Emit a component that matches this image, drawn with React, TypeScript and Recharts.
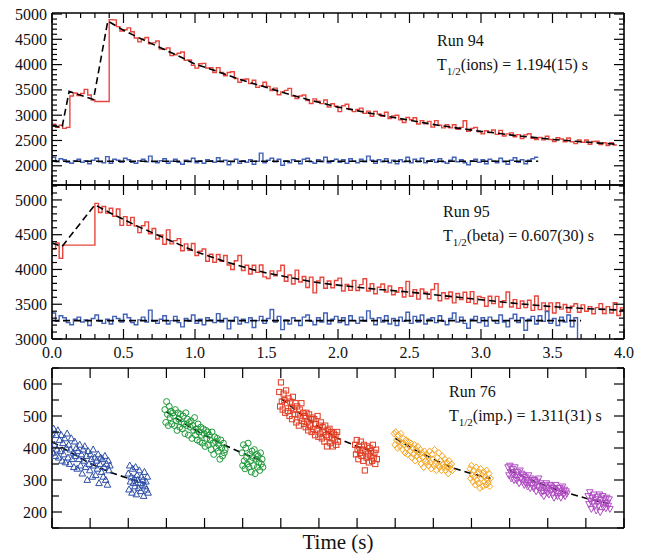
import { ComposedChart, Line, Scatter, XAxis, YAxis } from "recharts";

const FONT = "'Liberation Serif', 'DejaVu Serif', serif";
const BIN = 0.025; // histogram bin width (s)

// ---- Run 94 (ions) ----
const RED_94 = [
  2820, 2760, 2800, 2740, 2760, 3380, 3440, 3390, 3430, 3510,
  3400, 3300, 3270, 3270, 3270, 3270,
  4890, 4885, 4750, 4665, 4690, 4725, 4650, 4525, 4450, 4508, 4535, 4413,
  4430, 4468, 4305, 4303, 4330, 4178, 4195, 4223, 4250, 4085, 4090, 3985,
  3930, 4018, 4025, 3933, 3940, 3845, 3940, 3845, 3780, 3845, 3860, 3725,
  3650, 3708, 3715, 3623, 3690, 3550, 3580, 3650, 3570, 3488, 3535, 3403,
  3460, 3490, 3530, 3380, 3330, 3380, 3400, 3290, 3230, 3323, 3275, 3228,
  3300, 3163, 3225, 3178, 3070, 3188, 3215, 3113, 3070, 3115, 3140, 3035,
  3080, 2978, 3075, 3023, 2980, 3058, 2935, 2983, 3000, 2908, 2855, 2953,
  2910, 2948, 2825, 2893, 2830, 2878, 2765, 2893, 2800, 2750, 2810, 2750,
  2810, 2720, 2760, 2890, 2680, 2740, 2760, 2670, 2630, 2693, 2655, 2708,
  2620, 2700, 2590, 2630, 2650, 2573, 2615, 2538, 2610, 2633, 2545, 2518,
  2560, 2513, 2585, 2518, 2480, 2555, 2530, 2475, 2550, 2474, 2438, 2511,
  2465, 2510, 2425, 2480, 2485, 2420, 2455, 2400, 2455, 2410,
];
const BLUE_94 = [
  2170, 2080, 2140, 2120, 2070, 2050, 2100, 2130, 2070, 2100,
  2040, 2110, 2150, 2080, 2060, 2180, 2050, 2130, 2110, 2070,
  2150, 2120, 2070, 2050, 2100, 2130, 2080, 2190, 2080, 2060,
  2100, 2140, 2050, 2090, 2130, 2070, 2030, 2110, 2080, 2150,
  2060, 2100, 2050, 2120, 2100, 2070, 2160, 2080, 2110, 2020,
  2080, 2130, 2050, 2100, 2070, 2120, 2030, 2090, 2250, 2060,
  2110, 2150, 2080, 2130, 2010, 2100, 2060, 2120, 2090, 2040,
  2130, 2150, 2080, 2050, 2120, 2080, 2170, 2060, 2100, 2130,
  2070, 2120, 2050, 2140, 2090, 2060, 2130, 2080, 2190, 2110,
  2050, 2120, 2080, 2140, 2060, 2110, 2040, 2120, 2080, 2170,
  2060, 2130, 2080, 2150, 2060, 2100, 2120, 2070, 2140, 2080,
  2050, 2110, 2170, 2080, 2120, 2060, 2020, 2100, 2130, 2070,
  2120, 2040, 2130, 2090, 2060, 2150, 2080, 2030, 2110, 2160,
  2070, 2120, 2040, 2110, 2140, 2170,
];
const FIT94_T = [0, 0.07, 0.12, 0.29, 0.39, 0.5, 0.6, 0.7, 0.8, 0.9, 1.0, 1.1, 1.2, 1.3, 1.4, 1.5,
  1.6, 1.7, 1.8, 1.9, 2.0, 2.1, 2.2, 2.3, 2.4, 2.5, 2.6, 2.7, 2.8, 2.9, 3.0, 3.1, 3.2, 3.3, 3.4,
  3.5, 3.6, 3.7, 3.8, 3.9, 3.95];
const FIT94_V = [2790, 2760, 3470, 3310, 4860, 4680, 4540, 4410, 4280, 4150, 4010, 3920, 3820, 3720,
  3630, 3550, 3460, 3380, 3300, 3230, 3160, 3110, 3050, 3000, 2950, 2900, 2850, 2800, 2760, 2720,
  2680, 2650, 2610, 2580, 2550, 2520, 2500, 2475, 2455, 2435, 2425];
const BG94_T = [0, 3.4];
const BG94_V = [2090, 2090];

// ---- Run 95 (beta) ----
const RED_95 = [
  4290, 4380, 4160, 4350, 4350, 4350, 4350, 4350, 4350, 4350, 4350, 4350,
  4950, 4820, 4905, 4810, 4880, 4765, 4870, 4635, 4760, 4635, 4750, 4625,
  4530, 4628, 4685, 4513, 4590, 4438, 4495, 4363, 4570, 4368, 4415, 4443,
  4270, 4368, 4275, 4373, 4200, 4263, 4295, 4118, 4220, 4103, 4215, 4118,
  4200, 4065, 4000, 4125, 4200, 3985, 4060, 3935, 4060, 3958, 4065, 3893,
  3870, 3980, 3910, 3980, 4060, 3830, 3920, 3790, 3990, 3820, 3900, 3740,
  3890, 3663, 3835, 3888, 3730, 3834, 3738, 3841, 3875, 3690, 3784, 3699,
  3843, 3698, 3782, 3867, 3691, 3796, 3650, 3745, 3791, 3676, 3762, 3637,
  3673, 3738, 3604, 3829, 3615, 3710, 3574, 3719, 3673, 3578, 3712, 3797,
  3551, 3666, 3580, 3675, 3519, 3654, 3568, 3673, 3527, 3682, 3506, 3611,
  3595, 3470, 3614, 3509, 3613, 3458, 3552, 3677, 3461, 3566, 3441, 3546,
  3451, 3557, 3412, 3618, 3423, 3519, 3404, 3520, 3375, 3522, 3429, 3496,
  3383, 3470, 3507, 3384, 3491, 3399, 3466, 3364, 3451, 3509, 3367, 3465,
  3373, 3521, 3339, 3447,
];
const BLUE_95 = [
  3375, 3255, 3335, 3305, 3235, 3205, 3285, 3315, 3245, 3275,
  3195, 3295, 3345, 3255, 3225, 3285, 3215, 3325, 3295, 3245,
  3355, 3305, 3235, 3205, 3275, 3315, 3245, 3415, 3255, 3225,
  3285, 3335, 3215, 3265, 3325, 3235, 3175, 3295, 3255, 3345,
  3225, 3285, 3205, 3305, 3275, 3235, 3365, 3245, 3295, 3145,
  3255, 3315, 3215, 3285, 3235, 3305, 3165, 3265, 3325, 3225,
  3295, 3425, 3245, 3325, 3135, 3275, 3215, 3305, 3265, 3195,
  3315, 3345, 3255, 3205, 3305, 3245, 3375, 3215, 3285, 3325,
  3235, 3305, 3205, 3335, 3265, 3225, 3315, 3255, 3405, 3295,
  3205, 3305, 3245, 3335, 3215, 3295, 3195, 3315, 3255, 3385,
  3225, 3325, 3245, 3345, 3215, 3285, 3305, 3235, 3335, 3255,
  3205, 3295, 3375, 3245, 3315, 3225, 3155, 3285, 3325, 3235,
  3305, 3185, 3315, 3265, 3225, 3345, 3245, 3175, 3295, 3355,
  3235, 3305, 3125, 3285, 3325, 3215, 3335, 3255, 3395, 3225,
  3295, 3195, 3315, 3245, 3345, 3175, 3305, 2965,
];
const FIT95_T = [0, 0.07, 0.3, 0.4, 0.5, 0.6, 0.7, 0.8, 0.9, 1.0, 1.1, 1.2, 1.3, 1.4, 1.5, 1.6, 1.7,
  1.8, 1.9, 2.0, 2.25, 2.5, 2.75, 3.0, 3.25, 3.5, 3.75, 4.0];
const FIT95_V = [4380, 4330, 4930, 4820, 4720, 4620, 4530, 4440, 4350, 4260, 4190, 4120, 4060, 4000,
  3950, 3910, 3870, 3830, 3800, 3775, 3720, 3675, 3620, 3565, 3510, 3465, 3435, 3415];
const BG95_T = [0, 3.7];
const BG95_V = [3265, 3265];

// ---- Run 76 (implantation), counts per group ----
const BLUE_A = [
  445, 385, 460, 410, 375, 440, 395, 455, 370, 425,
  390, 440, 360, 415, 380, 430, 355, 400, 445, 370,
  410, 350, 395, 430, 365, 385, 340, 420, 375, 400,
  335, 390, 365, 410, 345, 380, 320, 395, 360, 405,
  340, 375, 300, 390, 350, 330, 380, 365, 310, 395,
  345, 370, 315, 360, 335, 380, 290, 350, 370, 325,
  365, 310, 340, 375, 300, 350, 285, 360, 330, 345,
];
const BLUE_B = [320, 270, 345, 295, 310, 260, 335, 290, 305, 280, 340, 255, 315, 300,
  275, 330, 290, 265, 310, 285, 300, 250, 325, 280, 295, 270, 310, 260];
const GREEN_A = [
  520, 480, 545, 505, 470, 530, 495, 515, 475, 510,
  500, 470, 520, 485, 455, 510, 490, 465, 505, 480,
  460, 500, 475, 445, 510, 470, 490, 440, 480, 465,
  485, 430, 470, 455, 495, 440, 460, 425, 475, 450,
  420, 465, 440, 415, 460, 445, 405, 455, 430, 450,
  410, 440, 425, 395, 450, 415, 380, 435, 420, 400,
  430, 390, 410, 365, 425, 400, 375, 415, 385, 395,
];
const GREEN_B = [385, 345, 410, 360, 335, 400, 370, 350, 415, 340, 380, 360, 325, 390,
  370, 345, 395, 320, 365, 380, 340, 375, 355, 330, 385, 350, 365, 340];
const RED_A = [
  575, 530, 605, 545, 520, 570, 550, 510, 580, 540,
  515, 555, 500, 545, 525, 490, 560, 520, 505, 540,
  480, 530, 505, 470, 520, 495, 540, 485, 510, 475,
  500, 465, 510, 480, 455, 505, 470, 490, 450, 495,
  460, 490, 440, 475, 455, 500, 435, 470, 445, 480,
  430, 465, 450, 420, 470, 440, 405, 455, 435, 460,
  415, 450, 430, 405, 445, 425, 440, 410, 450, 420,
];
const RED_B = [410, 380, 425, 395, 365, 405, 385, 420, 375, 395, 360, 410, 330, 390,
  370, 405, 380, 355, 400, 375, 390, 360, 410, 370, 385, 350, 395, 365];
const ORANGE_A = [
  445, 410, 450, 425, 400, 440, 420, 405, 445, 415,
  395, 430, 410, 385, 425, 400, 380, 420, 405, 390,
  415, 370, 400, 380, 410, 360, 395, 375, 405, 385,
  365, 395, 350, 385, 370, 340, 390, 360, 380, 355,
  375, 345, 390, 355, 335, 380, 365, 345, 395, 350,
  330, 370, 345, 385, 340, 360, 330, 375, 350, 340,
  365, 330, 355, 340, 320, 360, 345, 335, 350, 330,
];
const ORANGE_B = [335, 305, 345, 315, 295, 330, 310, 285, 340, 300, 320, 290, 325, 275,
  335, 305, 315, 280, 325, 295, 310, 285, 330, 300, 290, 320, 280, 305];
const PURPLE_A = [
  340, 315, 345, 325, 305, 335, 320, 300, 340, 315,
  300, 325, 310, 290, 330, 305, 320, 295, 315, 285,
  310, 290, 300, 280, 315, 295, 275, 305, 285, 300,
  275, 300, 285, 265, 295, 280, 305, 270, 290, 260,
  285, 265, 250, 280, 270, 290, 260, 275, 255, 285,
  265, 280, 255, 275, 245, 270, 285, 260, 250, 275,
  260, 275, 245, 265, 280, 255, 270, 250, 265, 258,
];
const PURPLE_B = [250, 225, 262, 235, 210, 245, 230, 255, 218, 240, 205, 248, 232, 220,
  255, 200, 238, 226, 250, 215, 242, 228, 212, 245, 230, 220, 240, 210];
// group spans on the cycle axis
const SPAN_A = [[0.0, 1.52], [2.96, 4.54], [5.96, 7.5], [8.97, 10.5], [11.96, 13.5]];
const SPAN_B = [[2.0, 2.52], [4.98, 5.53], [7.95, 8.52], [10.96, 11.5], [14.06, 14.63]];
const FIT76_X = [
  [0, 0.5, 1, 1.5, 2, 2.45],
  [3, 3.5, 4, 4.5, 5, 5.5],
  [6, 6.5, 7, 7.5, 8, 8.5],
  [9, 9.5, 10, 10.5, 11, 11.5],
  [12, 12.5, 13, 13.5, 14, 14.6],
];
const FIT76_Y = [
  [420, 385, 352, 325, 305, 290],
  [513, 474, 440, 410, 384, 360],
  [555, 508, 466, 430, 405, 385],
  [430, 395, 365, 338, 320, 305],
  [330, 303, 280, 260, 243, 226],
];

const RED = "#e8463c";
const BLUE = "#4262b8";
const PT_COLORS = ["#2f4fa8", "#1f9a3a", "#e23c22", "#f5a623", "#b04cc2"];

const hist = (vals: number[]) => [
  ...vals.map((v, i) => ({ t: +(i * BIN).toFixed(3), v })),
  { t: +(vals.length * BIN).toFixed(3), v: vals[vals.length - 1] },
];
const pairs = (ts: number[], vs: number[]) => ts.map((t, i) => ({ t, v: vs[i] }));
const xy = (xs: number[], ys: number[]) => xs.map((x, i) => ({ x, y: ys[i] }));
const spread = (span: number[], ys: number[]) =>
  ys.map((y, i) => ({ x: span[0] + (i * (span[1] - span[0])) / (ys.length - 1), y }));
const range = (a: number, b: number, s: number) =>
  Array.from({ length: Math.round((b - a) / s) + 1 }, (_, i) => +(a + i * s).toFixed(4));
const onStep = (v: number, s: number) => Math.abs(v / s - Math.round(v / s)) < 1e-6;

type Side = "left" | "right" | "top" | "bottom";

const tickFn =
  (side: Side, major: number, labelled: boolean, digits: number, majorLen: number, minorLen: number) =>
  (props: any) => {
    const { x, y, payload } = props;
    const v = payload.value;
    const isMaj = onStep(v, major);
    const len = isMaj ? majorLen : minorLen;
    const x2 = side === "left" ? x + len : side === "right" ? x - len : x;
    const y2 = side === "bottom" ? y - len : side === "top" ? y + len : y;
    let label = null;
    if (labelled && isMaj) {
      label =
        side === "left" ? (
          <text x={x - 5} y={y} dy="0.35em" textAnchor="end" fontFamily={FONT} fontSize={16} fill="#111">
            {v.toFixed(digits)}
          </text>
        ) : (
          <text x={x} y={y + 13} dy="0.35em" textAnchor="middle" fontFamily={FONT} fontSize={16} fill="#111">
            {v.toFixed(digits)}
          </text>
        );
    }
    return (
      <g>
        <line x1={x} y1={y} x2={x2} y2={y2} stroke="#000" strokeWidth={1.2} />
        {label}
      </g>
    );
  };

const AXIS_LINE = { stroke: "#000", strokeWidth: 1.6 };

function frame(o: {
  xKey: string; yKey: string; topH: number; bottomH: number;
  xDomain: number[]; xTicks: number[]; xMajor: number; xLabels: boolean; xDigits: number; xMinorLen: number;
  yDomain: number[]; yTicks: number[]; yMajor: number; yMinorLen: number;
}) {
  const common = { tickSize: 0, tickMargin: 0, interval: 0 as const, allowDataOverflow: true, axisLine: AXIS_LINE, tickLine: false };
  return [
    <XAxis key="xb" xAxisId="b" dataKey={o.xKey} type="number" domain={o.xDomain} ticks={o.xTicks} height={o.bottomH}
      tick={tickFn("bottom", o.xMajor, o.xLabels, o.xDigits, 10, o.xMinorLen)} {...common} />,
    <XAxis key="xt" xAxisId="t" orientation="top" dataKey={o.xKey} type="number" domain={o.xDomain} ticks={o.xTicks} height={o.topH}
      tick={tickFn("top", o.xMajor, false, 0, 10, o.xMinorLen)} {...common} />,
    <YAxis key="yl" yAxisId="l" dataKey={o.yKey} type="number" domain={o.yDomain} ticks={o.yTicks} width={52}
      tick={tickFn("left", o.yMajor, true, 0, 10, o.yMinorLen)} {...common} />,
    <YAxis key="yr" yAxisId="r" orientation="right" dataKey={o.yKey} type="number" domain={o.yDomain} ticks={o.yTicks} width={25}
      tick={tickFn("right", o.yMajor, false, 0, 10, o.yMinorLen)} {...common} />,
  ];
}

const stepLine = (key: string, data: any[], color: string) => (
  <Line key={key} data={data} dataKey="v" type="stepAfter" xAxisId="b" yAxisId="l" stroke={color}
    strokeWidth={1.4} dot={false} activeDot={false} isAnimationActive={false} />
);
const fitLine = (key: string, data: any[], dataKey = "v") => (
  <Line key={key} data={data} dataKey={dataKey} type="linear" xAxisId="b" yAxisId="l" stroke="#000"
    strokeWidth={1.6} strokeDasharray="7 4" dot={false} activeDot={false} isAnimationActive={false} />
);

const markers = [
  (p: any) => <polygon points={`${p.cx},${p.cy - 3.6} ${p.cx - 3.3},${p.cy + 2.4} ${p.cx + 3.3},${p.cy + 2.4}`} fill="none" stroke={PT_COLORS[0]} strokeWidth={1} />,
  (p: any) => <circle cx={p.cx} cy={p.cy} r={3} fill="none" stroke={PT_COLORS[1]} strokeWidth={1} />,
  (p: any) => <rect x={p.cx - 2.6} y={p.cy - 2.6} width={5.2} height={5.2} fill="none" stroke={PT_COLORS[2]} strokeWidth={1} />,
  (p: any) => <polygon points={`${p.cx},${p.cy - 3.3} ${p.cx + 3},${p.cy} ${p.cx},${p.cy + 3.3} ${p.cx - 3},${p.cy}`} fill="none" stroke={PT_COLORS[3]} strokeWidth={1} />,
  (p: any) => <polygon points={`${p.cx},${p.cy + 3.6} ${p.cx - 3.3},${p.cy - 2.4} ${p.cx + 3.3},${p.cy - 2.4}`} fill="none" stroke={PT_COLORS[4]} strokeWidth={1} />,
];

const GROUPS_A = [BLUE_A, GREEN_A, RED_A, ORANGE_A, PURPLE_A];
const GROUPS_B = [BLUE_B, GREEN_B, RED_B, ORANGE_B, PURPLE_B];

const Note = ({ left, top, run, what, value }: any) => (
  <div style={{ position: "absolute", left, top, fontFamily: FONT, fontSize: 16, lineHeight: "16px", color: "#111", whiteSpace: "nowrap" }}>
    <div>{run}</div>
    <div style={{ marginTop: 8 }}>
      T<span style={{ fontSize: 11, position: "relative", top: 5 }}>1/2</span>({what}) = {value} s
    </div>
  </div>
);

export default function App() {
  const t4 = range(0, 4, 0.1);
  return (
    <div style={{ position: "absolute", left: 0, top: 0, width: 649, height: 557, background: "#fff" }}>
      <div style={{ position: "absolute", left: 0, top: 0 }}>
        <ComposedChart width={649} height={200} margin={{ top: 0, right: 0, bottom: 0, left: 0 }}>
          {frame({
            xKey: "t", yKey: "v", topH: 13, bottomH: 15,
            xDomain: [0, 4], xTicks: t4, xMajor: 0.5, xLabels: false, xDigits: 1, xMinorLen: 5,
            yDomain: [1620, 5020], yTicks: range(1700, 5000, 100), yMajor: 500, yMinorLen: 5,
          })}
          {stepLine("r94", hist(RED_94), RED)}
          {stepLine("b94", hist(BLUE_94), BLUE)}
          {fitLine("f94", pairs(FIT94_T, FIT94_V))}
          {fitLine("g94", pairs(BG94_T, BG94_V))}
        </ComposedChart>
      </div>
      <div style={{ position: "absolute", left: 0, top: 172 }}>
        <ComposedChart width={649} height={200} margin={{ top: 0, right: 0, bottom: 0, left: 0 }}>
          {frame({
            xKey: "t", yKey: "v", topH: 13, bottomH: 33,
            xDomain: [0, 4], xTicks: t4, xMajor: 0.5, xLabels: true, xDigits: 1, xMinorLen: 5,
            yDomain: [3000, 5215], yTicks: range(3000, 5200, 100), yMajor: 500, yMinorLen: 5,
          })}
          {stepLine("r95", hist(RED_95), RED)}
          {stepLine("b95", hist(BLUE_95), BLUE)}
          {fitLine("f95", pairs(FIT95_T, FIT95_V))}
          {fitLine("g95", pairs(BG95_T, BG95_V))}
        </ComposedChart>
      </div>
      <div style={{ position: "absolute", left: 0, top: 355 }}>
        <ComposedChart width={649} height={200} margin={{ top: 0, right: 0, bottom: 0, left: 0 }}>
          {frame({
            xKey: "x", yKey: "y", topH: 13, bottomH: 27,
            xDomain: [0, 15], xTicks: range(0, 15, 1), xMajor: 1, xLabels: false, xDigits: 0, xMinorLen: 10,
            yDomain: [150, 650], yTicks: range(150, 650, 50), yMajor: 100, yMinorLen: 7,
          })}
          {GROUPS_A.map((g, i) => (
            <Scatter key={`a${i}`} data={spread(SPAN_A[i], g)} xAxisId="b" yAxisId="l" shape={markers[i]} isAnimationActive={false} />
          ))}
          {GROUPS_B.map((g, i) => (
            <Scatter key={`b${i}`} data={spread(SPAN_B[i], g)} xAxisId="b" yAxisId="l" shape={markers[i]} isAnimationActive={false} />
          ))}
          {FIT76_X.map((xs, i) => fitLine(`f76${i}`, xy(xs, FIT76_Y[i]), "y"))}
        </ComposedChart>
      </div>
      <Note left={437} top={33} run="Run 94" what="ions" value="1.194(15)" />
      <Note left={443} top={204} run="Run 95" what="beta" value="0.607(30)" />
      <Note left={449} top={384} run="Run 76" what="imp." value="1.311(31)" />
      <div style={{ position: "absolute", left: 288, top: 532, width: 100, textAlign: "center", fontFamily: FONT, fontSize: 21, lineHeight: "21px", color: "#111" }}>
        Time (s)
      </div>
    </div>
  );
}
